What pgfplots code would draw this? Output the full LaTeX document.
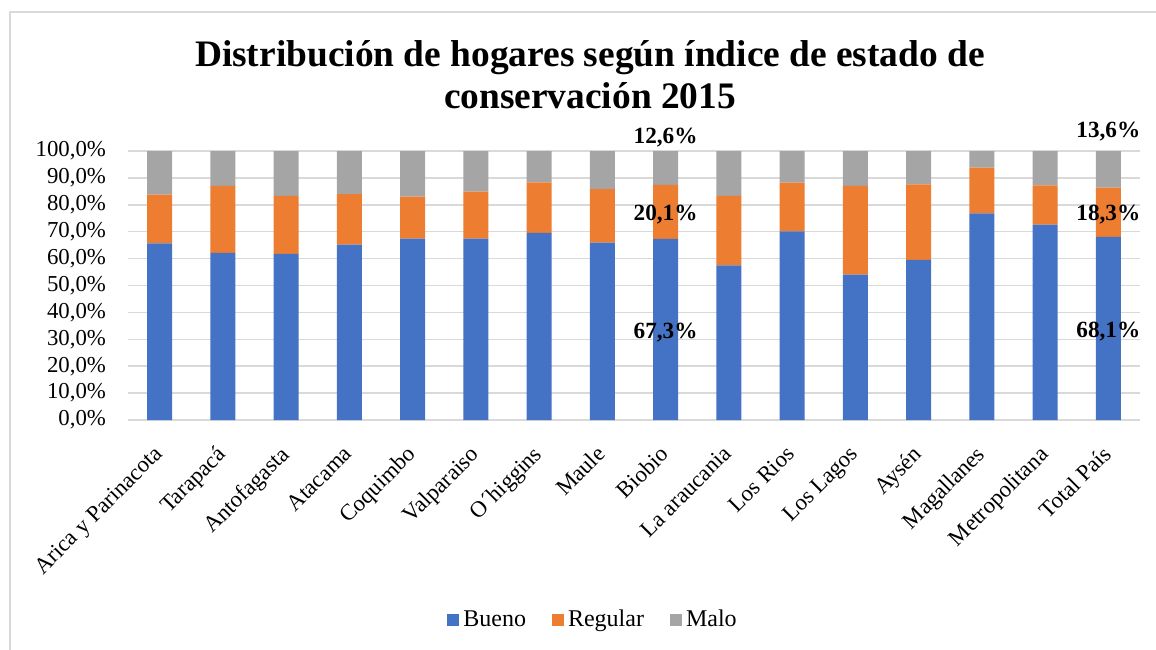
\documentclass[border=0pt]{standalone}
\usepackage{fontspec}
\setmainfont{Liberation Serif}
\usepackage{pgfplots}
\usepackage{pgfplotstable}
\pgfplotsset{compat=1.18}

\definecolor{cBueno}{HTML}{4472C4}
\definecolor{cRegular}{HTML}{ED7D31}
\definecolor{cMalo}{HTML}{A5A5A5}
\definecolor{cGrid}{HTML}{D9D9D9}

% region  bueno regular malo (percent)
\pgfplotstableread{
x  bueno regular malo
0  65.7  18.1  16.2
1  62.1  24.9  13.0
2  61.8  21.5  16.7
3  65.2  18.8  16.0
4  67.4  15.6  17.0
5  67.4  17.5  15.1
6  69.6  18.7  11.7
7  65.9  19.9  14.2
8  67.3  20.1  12.6
9  57.5  25.8  16.7
10 70.1  18.1  11.8
11 54.0  33.0  13.0
12 59.5  28.1  12.4
13 76.8  17.0   6.2
14 72.6  14.6  12.8
15 68.1  18.3  13.6
}\datatable

\begin{document}
\begin{tikzpicture}
\useasboundingbox (-64pt,-114.5pt) rectangle (514pt,210pt);
\draw[cGrid, line width=0.75pt] (-59pt,-130pt) rectangle (530pt,204pt);

\node[anchor=base, font=\fontsize{18.7}{22}\selectfont\bfseries] at (231pt,176.6pt)
  {Distribución de hogares según índice de estado de};
\node[anchor=base, font=\fontsize{18.7}{22}\selectfont\bfseries] at (231pt,155.5pt)
  {conservación 2015};

\begin{axis}[
  at={(0pt,0pt)}, anchor=south west,
  scale only axis, width=506pt, height=134.5pt,
  ybar stacked, bar width=12.5pt,
  xmin=-0.5, xmax=15.5, ymin=0, ymax=100,
  xtick={0,...,15},
  xticklabels={Arica y Parinacota,Tarapacá,Antofagasta,Atacama,Coquimbo,Valparaiso,O´higgins,Maule,Biobio,La araucania,Los Rios,Los Lagos,Aysén,Magallanes,Metropolitana,Total País},
  ytick={0,10,20,30,40,50,60,70,80,90,100},
  yticklabels={{0,0\%},{10,0\%},{20,0\%},{30,0\%},{40,0\%},{50,0\%},{60,0\%},{70,0\%},{80,0\%},{90,0\%},{100,0\%}},
  axis line style={draw=none},
  tick style={draw=none},
  ymajorgrids,
  major grid style={cGrid, line width=0.75pt},
  tick label style={font=\fontsize{11.4}{13}\selectfont},
  xticklabel style={rotate=45, anchor=north east, inner sep=1pt, xshift=-10pt, yshift=-5pt},
  yticklabel style={xshift=-7.5pt},
  legend columns=3,
  legend style={draw=none, at={(0.4605,-0.7435)}, anchor=center,
    font=\fontsize{12}{14}\selectfont,
    /tikz/every even column/.append style={column sep=11pt}},
  legend image code/.code={\fill[#1] (0pt,-3pt) rectangle (6pt,3pt);},
]
\addplot[fill=cBueno, draw=none] table[x=x, y=bueno] {\datatable};
\addplot[fill=cRegular, draw=none] table[x=x, y=regular] {\datatable};
\addplot[fill=cMalo, draw=none] table[x=x, y=malo] {\datatable};
\legend{Bueno, Regular, Malo}
\end{axis}

% data labels on Biobio and Total País
\begin{axis}[
  at={(0pt,0pt)}, anchor=south west,
  scale only axis, width=506pt, height=134.5pt,
  xmin=-0.5, xmax=15.5, ymin=0, ymax=100,
  hide axis, clip=false,
]
\addplot[only marks, mark=none, point meta=explicit symbolic,
  nodes near coords, nodes near coords align={center},
  every node near coord/.style={font=\fontsize{11.6}{13}\selectfont\bfseries, anchor=center, inner sep=0pt}]
  coordinates {
    (8,32.5)[{67,3\%}] (8,76.4)[{20,1\%}] (8,105.0)[{12,6\%}]
    (15,32.9)[{68,1\%}] (15,76.4)[{18,3\%}] (15,107.4)[{13,6\%}]
  };
\end{axis}
\end{tikzpicture}
\end{document}
